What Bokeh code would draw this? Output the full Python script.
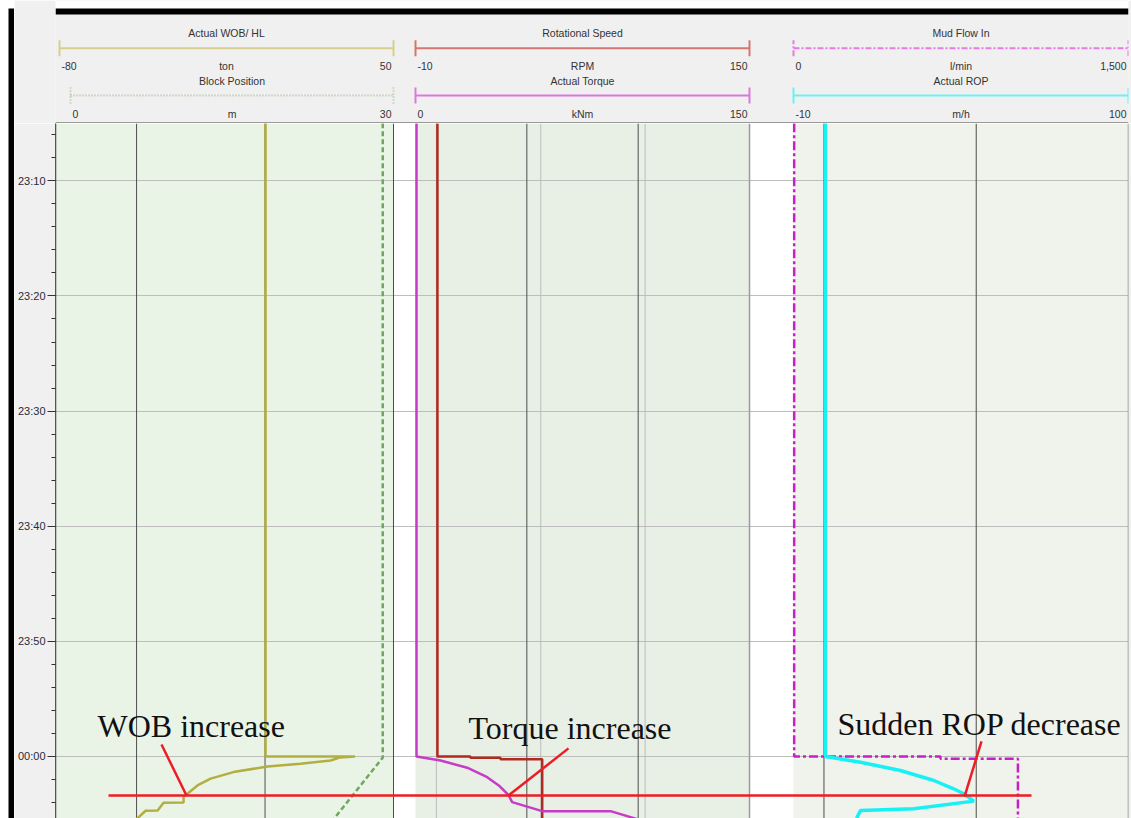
from bokeh.plotting import figure
from bokeh.models import Range1d, FixedTicker, BoxAnnotation, Span
from bokeh.layouts import row, column
from bokeh.embed import file_html
from bokeh.resources import INLINE
from bokeh.core.properties import value

# ---------------- data (time = minutes after 23:00) ----------------
tick_minutes = [10, 20, 30, 40, 50, 60]
tick_labels = ["23:10", "23:20", "23:30", "23:40", "23:50", "00:00"]
minor_minutes = list(range(6, 66, 2))

wob_time = [5.0, 60.0, 60.0, 60.1, 60.35, 60.63, 60.87, 61.36, 61.93, 62.52, 63.24,
            63.4, 63.5, 64.0, 64.02, 64.7, 64.72, 65.3, 65.5]
wob_ton = [0.2, 0.2, 35.0, 29.0, 25.5, 13.8, 1.0, -12.3, -21.2, -26.3, -30.2,
           -31.0, -31.7, -31.7, -39.5, -41.8, -46.5, -49.3, -50.5]

block_time = [5.0, 60.1, 65.5]
block_m = [29.0, 29.0, 24.4]

rpm_time = [5.0, 60.0, 60.0, 60.12, 60.12, 60.25, 60.25, 65.5]
rpm_val = [0.5, 0.5, 16.3, 16.3, 30.7, 30.7, 50.7, 50.7]

torque_time = [5.0, 60.0, 60.35, 60.98, 61.8, 62.52, 63.24, 63.39, 63.97, 64.75,
               64.75, 65.27, 65.5]
torque_knm = [0.45, 0.45, 11.2, 23.2, 32.2, 37.4, 41.2, 41.9, 43.4, 56.9,
              87.6, 96.6, 100.5]

flow_time = [5.0, 60.0, 60.0, 60.2, 60.2, 65.5]
flow_lpm = [3, 3, 658, 658, 1005, 1005]

rop_time = [5.0, 60.0, 60.5, 61.22, 62.09, 62.81, 63.24, 63.88, 64.54, 64.69, 65.27, 65.5]
rop_mh = [0.5, 0.5, 12.0, 25.1, 36.1, 42.6, 45.9, 49.2, 29.5, 12.0, 10.9, 10.9]

# header scales
scale_names = ["wob", "block", "rpm", "torque", "flow", "rop"]
scale_titles = ["Actual WOB/ HL", "Block Position", "Rotational Speed",
                "Actual Torque", "Mud Flow In", "Actual ROP"]
scale_units = ["ton", "m", "RPM", "kNm", "l/min", "m/h"]
scale_lo = [-80, 0, -10, 0, 0, -10]
scale_hi = [50, 30, 150, 150, 1500, 100]
scale_lo_labels = ["-80", "0", "-10", "0", "0", "-10"]
scale_hi_labels = ["50", "30", "150", "150", "1,500", "100"]

# annotations (event marker time, text)
marker_time = 63.39
annot_texts = ["WOB increase", "Torque increase", "Sudden ROP decrease"]

# ---------------- layout / style ----------------
MARGIN = 8
W_FRAME = 1073
BORDER_L = 41
BORDER_R = 3
FIG_W = W_FRAME + BORDER_L + BORDER_R
HEAD_H = 109
BAR = 6
BODY_H = 695
T_TOP, T_BOTTOM = 5.02, 65.39
GREY = "#f0f0f0"
TXT = "#333333"
UI_FONT = "Liberation Sans"

# pixel span of each scale inside the frame (0 .. W_FRAME)
track_px = {"wob": (4, 338), "block": (15, 338), "rpm": (360, 694),
            "torque": (360, 694), "flow": (738, 1073), "rop": (738, 1073)}
scale_colors = ["#d6cf8e", "#a6c496", "#d27870", "#dc78dc", "#e47ce4", "#6af2f2"]
scale_dashes = ["solid", "1 2", "solid", "solid", "6 2 2 2", "solid"]

ranges = {}
for name, lo, hi in zip(scale_names, scale_lo, scale_hi):
    p0, p1 = track_px[name]
    k = (hi - lo) / (p1 - p0)
    ranges[name] = Range1d(lo - p0 * k, hi + (W_FRAME - p1) * k)
layout_x = Range1d(0, W_FRAME)

# ---------------- header ----------------
HEAD_TOTAL = HEAD_H + BAR + MARGIN
head = figure(width=FIG_W, height=HEAD_TOTAL, x_range=layout_x,
              y_range=Range1d(0, HEAD_TOTAL),
              x_axis_location=None, y_axis_location=None, toolbar_location=None,
              output_backend="svg", min_border=0, min_border_left=BORDER_L,
              min_border_right=BORDER_R, background_fill_color=GREY,
              border_fill_color=GREY, outline_line_color=None)
head.extra_x_ranges = ranges
head.grid.visible = False
# window chrome: page margin and black frame on top
head.quad(left=[0], right=[W_FRAME], bottom=[HEAD_H + BAR], top=[HEAD_TOTAL],
          fill_color="white", line_color=None)
head.quad(left=[0], right=[W_FRAME], bottom=[HEAD_H], top=[HEAD_H + BAR],
          fill_color="black", line_color=None)

rows_y = [(90.5, 75.3, 57.5), (42.5, 28.0, 10.0)]
for i, name in enumerate(scale_names):
    ty, ly, lab_y = rows_y[i % 2]
    lo, hi = scale_lo[i], scale_hi[i]
    col, dash = scale_colors[i], scale_dashes[i]
    head.segment(x0=[lo], x1=[hi], y0=[ly], y1=[ly], x_range_name=name,
                 line_color=col, line_width=2, line_dash=dash)
    head.segment(x0=[lo, hi], x1=[lo, hi], y0=[ly - 8, ly - 8], y1=[ly + 8, ly + 8],
                 x_range_name=name, line_color=col, line_width=2, line_dash=dash)
    mid = (lo + hi) / 2
    common = dict(x_range_name=name, text_baseline="middle", text_color=TXT,
                  text_font=value(UI_FONT), text_font_size="10.5px")
    head.text(x=[mid], y=[ty], text=[scale_titles[i]], text_align="center", **common)
    head.text(x=[mid], y=[lab_y], text=[scale_units[i]], text_align="center", **common)
    head.text(x=[lo], y=[lab_y], text=[scale_lo_labels[i]], text_align="left",
              x_offset=2, **common)
    head.text(x=[hi], y=[lab_y], text=[scale_hi_labels[i]], text_align="right",
              x_offset=-2, **common)
head.segment(x0=[0], x1=[W_FRAME], y0=[0.5], y1=[0.5], line_color="#444444", line_width=1)

# ---------------- body ----------------
body = figure(width=FIG_W, height=BODY_H, x_range=layout_x,
              y_range=Range1d(T_BOTTOM, T_TOP),
              x_axis_location=None, y_axis_location="left", toolbar_location=None,
              output_backend="svg", min_border=0, min_border_left=BORDER_L,
              min_border_right=BORDER_R, background_fill_color="white",
              border_fill_color=GREY, outline_line_color=None)
body.extra_x_ranges = ranges
body.xgrid.visible = False

# track backgrounds
body.add_layout(BoxAnnotation(left=ranges["wob"].start, right=50, x_range_name="wob",
                              fill_color="#e9f4e7", fill_alpha=1, line_color=None, level="image"))
body.add_layout(BoxAnnotation(left=0, right=150, x_range_name="torque",
                              fill_color="#e8f0e6", fill_alpha=1, line_color=None, level="image"))
body.add_layout(BoxAnnotation(left=-10, right=100, x_range_name="rop",
                              fill_color="#f0f2ec", fill_alpha=1, line_color=None, level="image"))

# y axis (time)
yax = body.yaxis[0]
yax.ticker = FixedTicker(ticks=tick_minutes, minor_ticks=minor_minutes)
yax.major_label_overrides = dict(zip(tick_minutes, tick_labels))
yax.major_tick_out = 8
yax.major_tick_in = 0
yax.minor_tick_out = 4
yax.minor_tick_in = 0
yax.major_label_standoff = 2
yax.axis_label_standoff = 0
yax.axis_line_color = "#555555"
yax.major_tick_line_color = "#333333"
yax.minor_tick_line_color = "#333333"
yax.major_label_text_font = UI_FONT
yax.major_label_text_font_size = "11px"
yax.major_label_text_color = "#2a2a3a"

body.ygrid.ticker = FixedTicker(ticks=tick_minutes)
body.ygrid.grid_line_color = "#bdbdbd"
body.ygrid.grid_line_width = 1

# vertical grid lines per track
dark_grid = [("wob", -50), ("wob", 0), ("wob", 50), ("torque", 50), ("torque", 100),
             ("rop", 0), ("rop", 50)]
light_grid = [("rpm", 0), ("rpm", 50), ("rpm", 100)]
for name, v in dark_grid:
    body.add_layout(Span(location=v, dimension="height", x_range_name=name,
                         line_color="#4d4d4d", line_width=1, level="underlay"))
for name, v in light_grid:
    body.add_layout(Span(location=v, dimension="height", x_range_name=name,
                         line_color="#bcbcbc", line_width=1, level="underlay"))
body.add_layout(Span(location=150, dimension="height", x_range_name="torque",
                     line_color="#9a9a9a", line_width=1.5, level="underlay"))
body.add_layout(Span(location=100, dimension="height", x_range_name="rop",
                     line_color="#8a8a8a", line_width=1.5, level="underlay"))
body.add_layout(Span(location=ranges["wob"].start, dimension="height", x_range_name="wob",
                     line_color="#444444", line_width=1.5, level="underlay"))

# curves
body.line(x=block_m, y=block_time, x_range_name="block", line_color="#6ea85e",
          line_width=2.5, line_dash="5 3")
body.line(x=wob_ton, y=wob_time, x_range_name="wob", line_color="#b3ae40", line_width=2.5)
body.line(x=rpm_val, y=rpm_time, x_range_name="rpm", line_color="#b02a1e", line_width=2.5)
body.line(x=torque_knm, y=torque_time, x_range_name="torque", line_color="#c63cc6",
          line_width=2.5)
body.line(x=flow_lpm, y=flow_time, x_range_name="flow", line_color="#c81ec8",
          line_width=2.5, line_dash="9 3 3 3")
body.line(x=rop_mh, y=rop_time, x_range_name="rop", line_color="#18f0f4", line_width=3.5)

# annotations (layout units across the frame)
RED = "#ee1c24"
body.line(x=[53, 976], y=[marker_time, marker_time], line_color=RED, line_width=2.5)
ptr_x0 = [106, 513, 926]
ptr_y0 = [58.96, 59.30, 58.70]
ptr_x1 = [131, 453, 909]
ptr_y1 = [marker_time, marker_time, 63.48]
body.segment(x0=ptr_x0, y0=ptr_y0, x1=ptr_x1, y1=ptr_y1, line_color=RED, line_width=2.5)
body.text(x=[42, 413, 782], y=[57.35, 57.55, 57.15], text=annot_texts,
          text_font=value("Liberation Serif"), text_font_size="32px",
          text_color="#111111", text_baseline="alphabetic", text_align="left")

# ---------------- left window frame ----------------
left_bar = figure(width=MARGIN + BAR, height=HEAD_TOTAL + BODY_H,
                  x_axis_location=None, y_axis_location=None, toolbar_location=None,
                  output_backend="svg", min_border=0, min_border_left=MARGIN,
                  min_border_top=MARGIN, background_fill_color="black",
                  border_fill_color="white", outline_line_color=None)
left_bar.grid.visible = False

page = row(left_bar, column(head, body))
open("out.html", "w").write(file_html(page, INLINE))
